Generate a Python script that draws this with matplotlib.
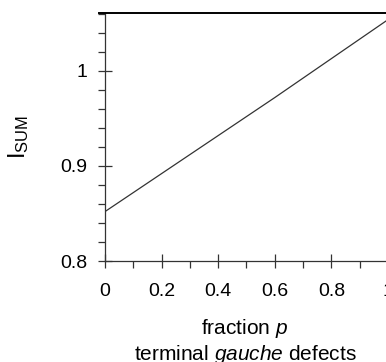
import matplotlib
matplotlib.use('Agg')
import matplotlib.pyplot as plt
from matplotlib.ticker import MultipleLocator

plt.rcParams['font.family'] = 'Liberation Sans'
plt.rcParams['mathtext.fontset'] = 'custom'
plt.rcParams['mathtext.rm'] = 'Liberation Sans'
plt.rcParams['mathtext.it'] = 'Liberation Sans:italic'

p = [0.0, 0.2, 0.4, 0.6, 0.8, 1.0]
i_sum = [0.852, 0.892, 0.932, 0.972, 1.013, 1.054]
xticks = [0, 0.2, 0.4, 0.6, 0.8, 1.0]
xticklabels = ['0', '0.2', '0.4', '0.6', '0.8', '1']
yticks = [0.8, 0.9, 1.0]
yticklabels = ['0.8', '0.9', '1']

fig = plt.figure(figsize=(3.86, 3.62), dpi=100)
ax = fig.add_axes([0.272, 0.279, 0.733, 0.685])

ax.plot(p, i_sum, color='#333333', linewidth=0.9)

ax.set_xlim(0, 1)
ax.set_ylim(0.8, 1.061)
ax.set_xticks(xticks)
ax.set_xticklabels(xticklabels)
ax.set_yticks(yticks)
ax.set_yticklabels(yticklabels)
ax.xaxis.set_minor_locator(MultipleLocator(0.1))
ax.yaxis.set_minor_locator(MultipleLocator(0.02))

ax.tick_params(which='major', direction='inout', length=10, width=0.9,
               labelsize=14, color='#333333')
ax.tick_params(which='minor', direction='out', length=5, width=0.9, color='#333333')
ax.tick_params(axis='x', which='major', pad=11)
ax.tick_params(axis='y', which='major', pad=8)

ax.spines['right'].set_visible(False)
ax.spines['left'].set_color('#333333')
ax.spines['bottom'].set_color('#333333')
ax.spines['left'].set_linewidth(0.9)
ax.spines['bottom'].set_linewidth(0.9)
ax.spines['top'].set_linewidth(1.4)
ax.spines['top'].set_bounds(-0.02, 1.0)

ax.set_ylabel(r'I$_{\mathrm{SUM}}$', fontsize=17)
ax.yaxis.set_label_coords(-0.26, 0.5)
ax.set_xlabel('fraction $p$\nterminal $gauche$ defects', fontsize=15, linespacing=1.2)
ax.xaxis.set_label_coords(0.495, -0.225)
ax.xaxis.label.set_va('top')

plt.savefig('out.png', dpi=100)
